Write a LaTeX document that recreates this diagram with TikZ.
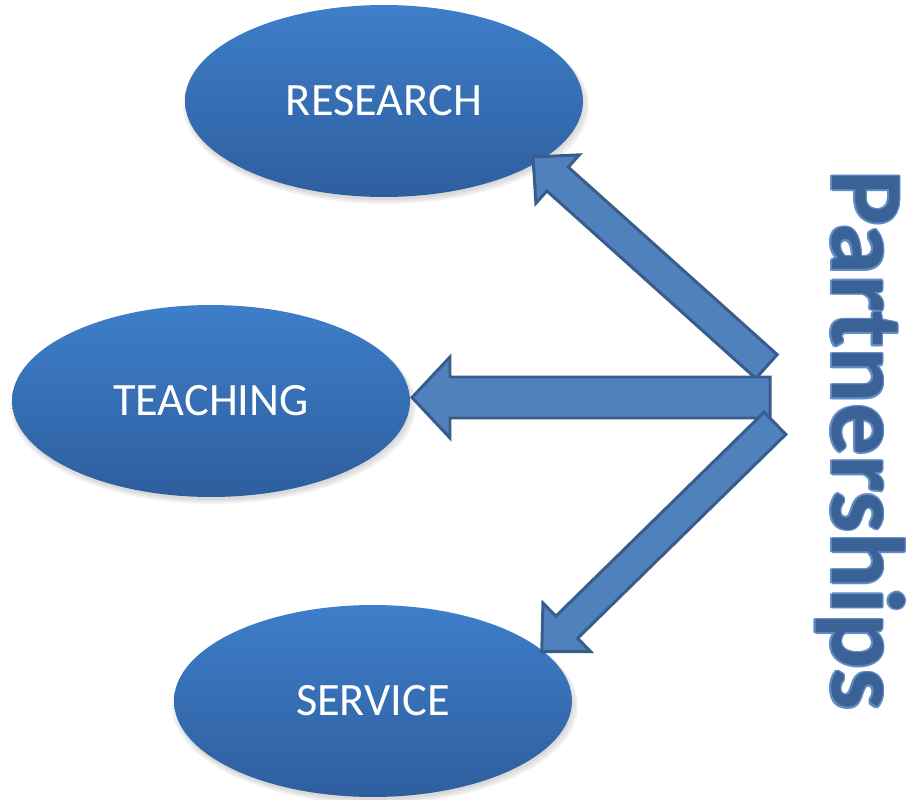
\documentclass[tikz,border=0pt]{standalone}
\usepackage{fontspec}
\setmainfont{Carlito}
\usetikzlibrary{shapes.geometric}
\definecolor{elltop}{RGB}{62,126,202}
\definecolor{ellbot}{RGB}{46,94,158}
\definecolor{arrfill}{RGB}{79,129,189}
\definecolor{arredge}{RGB}{56,93,138}
\definecolor{ptext}{RGB}{58,98,150}
\definecolor{pglow}{RGB}{98,140,196}
\newcommand\blockarr[6]{% tail, angle, length, shaft half, head half, head length
  \begin{scope}[shift={#1}, rotate=#2]
    \draw[arrowshape] (0,-#4) -- ({#3-#6},-#4) -- ({#3-#6},-#5) -- (#3,0)
      -- ({#3-#6},#5) -- ({#3-#6},#4) -- (0,#4) -- cycle;
  \end{scope}}
\begin{document}
\begin{tikzpicture}[x=0.02cm,y=0.02cm,
  bubble/.style={ellipse, minimum width=7.96cm, minimum height=3.84cm,
    inner sep=0pt, top color=elltop, bottom color=ellbot, draw=none,
    text=white, font=\fontsize{26.4}{30}\selectfont},
  shade/.style={ellipse, minimum width=7.96cm, minimum height=3.84cm, inner sep=0pt,
    fill=black, fill opacity=0.05, draw=none},
  arrowshape/.style={fill=arrfill, draw=arredge, line width=1.7pt, line join=miter},
  bigword/.style={font=\fontsize{59}{64}\selectfont\bfseries, rotate=-90, anchor=base}]
\useasboundingbox (0,0) rectangle (913,799);
% soft shadows
\foreach \n/\px/\py in {r/384/698, t/211/398, s/373/98}{
  \node[shade, scale=1.02] (sh1\n) at (\px+2,\py-5) {};
  \node[shade, scale=1.01] (sh2\n) at (\px+2,\py-4) {};
  \node[shade] (sh3\n) at (\px+1,\py-3) {};
}
\node[bubble] (research) at (384,698) {RESEARCH};
\node[bubble] (teaching) at (211,398) {TEACHING};
\node[bubble] (service)  at (373,98)  {SERVICE};
% block arrows
\coordinate (hubA) at (766.5,432.5);
\coordinate (hubB) at (770,401.5);
\coordinate (hubC) at (775,375.7);
\blockarr{(hubA)}{138.1}{313.7}{16}{32.5}{33}
\blockarr{(hubB)}{180}{358}{20.5}{40.5}{38}
\blockarr{(hubC)}{224.4}{326.5}{15.5}{34}{35}
% Partnerships
\foreach \dx/\dy [count=\i] in {1.5/0, -1.5/0, 0/1.5, 0/-1.5, 1.1/1.1, -1.1/1.1, 1.1/-1.1, -1.1/-1.1}{
  \node[bigword, text=pglow] (glow\i) at (832+\dx,358.5+\dy) {Partnerships};
}
\node[bigword, text=ptext] (partners) at (832,358.5) {Partnerships};
\end{tikzpicture}
\end{document}
